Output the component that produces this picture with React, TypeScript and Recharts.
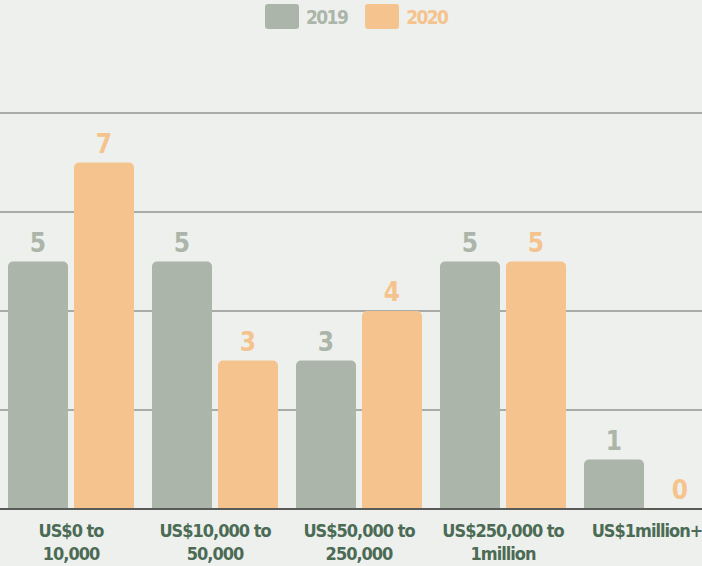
import React from 'react';
import { BarChart, Bar, XAxis, YAxis, CartesianGrid, LabelList } from 'recharts';

const categories = ['US$0 to\n10,000', 'US$10,000 to\n50,000', 'US$50,000 to\n250,000', 'US$250,000 to\n1million', 'US$1million+'];
const values2019 = [5, 5, 3, 5, 1];
const values2020 = [7, 3, 4, 5, 0];
const yTicks = [0, 2, 4, 6, 8];

const GRAY = '#abb5a9';
const ORANGE = '#f5c38e';
const GREEN = '#4b6b55';
const FONT = '"DejaVu Sans Condensed", "DejaVu Sans", sans-serif';

const data = categories.map((c, i) => ({ name: c, y2019: values2019[i], y2020: values2020[i] }));

const CategoryTick = (props: any) => {
  const { x, y, payload } = props;
  const lines = String(payload.value).split('\n');
  return (
    <text x={x} y={y} textAnchor="middle" fill={GREEN} fontFamily={FONT} fontWeight="bold" fontSize={18} letterSpacing={-1}>
      {lines.map((l, i) => (
        <tspan key={i} x={x} dy={i === 0 ? 20 : 23}>{l}</tspan>
      ))}
    </text>
  );
};

// label drawn for every value, zero included
const valueLabel = (color: string) => (props: any) => {
  const { x, y, width, value } = props;
  return (
    <text x={x + width / 2} y={y - 10} textAnchor="middle" fill={color} fontFamily={FONT} fontWeight="bold" fontSize={26}>
      {value}
    </text>
  );
};

function LegendBox() {
  const items = [
    { label: '2019', color: GRAY },
    { label: '2020', color: ORANGE },
  ];
  return (
    <div style={{ position: 'absolute', top: 4, left: 265, display: 'flex', alignItems: 'center' }}>
      {items.map((it) => (
        <div key={it.label} style={{ display: 'flex', alignItems: 'center', marginRight: 18 }}>
          <div style={{ width: 34, height: 25, background: it.color, borderRadius: 3 }} />
          <span style={{ marginLeft: 7, color: it.color, fontFamily: FONT, fontWeight: 'bold', fontSize: 19, letterSpacing: -1.6 }}>{it.label}</span>
        </div>
      ))}
    </div>
  );
}

export default function App() {
  return (
    <div style={{ position: 'fixed', left: 0, top: 0, width: 702, height: 566, overflow: 'hidden', background: '#eef0ed' }}>
      <LegendBox />
      <div style={{ position: 'absolute', left: -1, top: 0 }}>
        <BarChart
          width={720}
          height={566}
          data={data}
          margin={{ top: 113, right: 0, bottom: 0, left: 0 }}
          barCategoryGap={9}
          barGap={6}
        >
          <CartesianGrid vertical={false} stroke="#a9aba7" strokeWidth={2} />
          <YAxis hide domain={[0, 8]} ticks={yTicks} />
          <XAxis
            dataKey="name"
            interval={0}
            tickLine={false}
            axisLine={{ stroke: '#5a5b59', strokeWidth: 2 }}
            tick={<CategoryTick />}
            height={57}
          />
          <Bar dataKey="y2019" fill={GRAY} radius={[5, 5, 0, 0]} isAnimationActive={false}>
            <LabelList dataKey="y2019" content={valueLabel(GRAY)} />
          </Bar>
          <Bar dataKey="y2020" fill={ORANGE} radius={[5, 5, 0, 0]} minPointSize={0.5} isAnimationActive={false}>
            <LabelList dataKey="y2020" content={valueLabel(ORANGE)} />
          </Bar>
        </BarChart>
      </div>
    </div>
  );
}
